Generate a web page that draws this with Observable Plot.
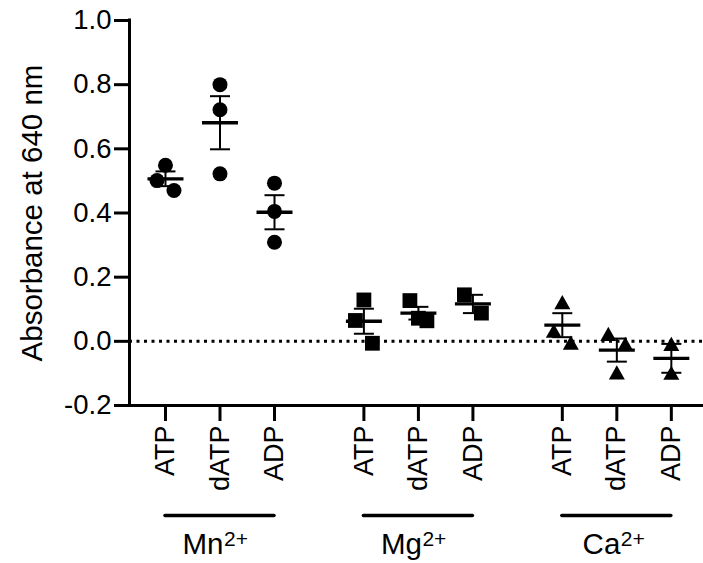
<!DOCTYPE html>
<html><head><meta charset="utf-8">
<script src="https://cdn.jsdelivr.net/npm/d3@7"></script>
<script src="https://cdn.jsdelivr.net/npm/@observablehq/plot@0.6"></script>
<style>body{margin:0;background:#fff} #chart svg{display:block}</style>
</head><body><div id="chart"></div>
<script>
// ---- data ----
const ionNames = ["Mn", "Mg", "Ca"];
const ionCharge = "2+";
const nucleotides = ["ATP", "dATP", "ADP"];
const mnValues = [[0.549, 0.501, 0.470], [0.800, 0.722, 0.522], [0.493, 0.405, 0.309]];
const mgValues = [[0.129, 0.065, -0.006], [0.072, 0.127, 0.064], [0.145, 0.088]];
const caValues = [[0.122, 0.033, -0.004], [0.023, -0.008, -0.097], [-0.008, -0.098]];
const yTicks = [-0.2, 0.0, 0.2, 0.4, 0.6, 0.8, 1.0];
const yDomain = [-0.2, 1.0];
const yLabel = "Absorbance at 640 nm";

// ---- layout ----
const W = 703, H = 563;
const marginLeft = 129, marginRight = 0, marginTop = 20, marginBottom = 158;
const groupStep = 3.64;
const xDomain = [-0.66, 9.87];
const pxPerUnit = (W - marginLeft - marginRight) / (xDomain[1] - xDomain[0]);
const spread = 8.5 / pxPerUnit;
const clusterGap = 0.075;
const font = "'Liberation Sans', Arial, Helvetica, sans-serif";

const seriesByIon = [mnValues, mgValues, caValues];
const points = [], stats = [], ticks = [];
seriesByIon.forEach((series, g) => {
  series.forEach((vals, k) => {
    const pos = g * groupStep + k;
    ticks.push({pos, label: nucleotides[k]});
    const order = d3.range(vals.length).sort((a, b) => vals[b] - vals[a]);
    const clusters = [];
    order.forEach((idx, j) => {
      if (j > 0 && Math.abs(vals[order[j - 1]] - vals[idx]) < clusterGap) clusters[clusters.length - 1].push(idx);
      else clusters.push([idx]);
    });
    const offset = new Array(vals.length).fill(0);
    clusters.forEach(c => {
      c.sort((a, b) => a - b);
      const seq = c.length % 2 ? [0, -1, 1, -2, 2] : [-1, 1, -2, 2];
      c.forEach((idx, j) => offset[idx] = seq[j]);
    });
    vals.forEach((v, i) => points.push({ion: g, pos: pos + offset[i] * spread, value: v}));
    const m = d3.mean(vals), sem = d3.deviation(vals) / Math.sqrt(vals.length);
    stats.push({pos, mean: m, lo: m - sem, hi: m + sem});
  });
});
const labelMap = new Map(ticks.map(t => [t.pos, t.label]));
const groups = ionNames.map((name, g) => ({name, start: g * groupStep, end: g * groupStep + 2, mid: g * groupStep + 1}));

const hbar = w => ({draw(ctx) { ctx.moveTo(-w, 0); ctx.lineTo(w, 0); }});
const squareSym = {draw(ctx) { ctx.rect(-7.4, -7.4, 14.8, 14.8); }};
const triSym = {draw(ctx) { ctx.moveTo(0, -7.1); ctx.lineTo(8, 7.1); ctx.lineTo(-8, 7.1); ctx.closePath(); }};
const ionSymbols = ["circle", squareSym, triSym];

const chart = Plot.plot({
  width: W, height: H,
  marginLeft, marginRight, marginTop, marginBottom,
  style: {fontFamily: font, background: "#fff", color: "#000"},
  x: {domain: xDomain, axis: null},
  y: {domain: yDomain, axis: null},
  marks: [
    Plot.ruleY([0], {strokeDasharray: "3,4.5", strokeWidth: 3}),
    Plot.axisY({ticks: yTicks, tickFormat: d => d.toFixed(1), tickSize: 15, tickPadding: 3, fontSize: 27.5, strokeWidth: 3, label: null}),
    Plot.axisX({ticks: ticks.map(t => t.pos), tickFormat: p => labelMap.get(p), tickRotate: -90, tickSize: 16, tickPadding: 4, fontSize: 27, strokeWidth: 3, label: null}),
    Plot.ruleX([xDomain[0]], {strokeWidth: 3, strokeLinecap: "square"}),
    Plot.ruleY([yDomain[0]], {strokeWidth: 3, strokeLinecap: "square"}),
    ...ionSymbols.map((sym, g) => Plot.dot(points.filter(p => p.ion === g), {x: "pos", y: "value", r: 7.5, fill: "black", stroke: "none", symbol: sym})),
    Plot.ruleX(stats, {x: "pos", y1: "lo", y2: "hi", strokeWidth: 2}),
    Plot.dot(stats, {x: "pos", y: "mean", r: 1, symbol: hbar(18), fill: "none", stroke: "black", strokeWidth: 3.3}),
    Plot.dot(stats, {x: "pos", y: "lo", r: 1, symbol: hbar(10), fill: "none", stroke: "black", strokeWidth: 2}),
    Plot.dot(stats, {x: "pos", y: "hi", r: 1, symbol: hbar(10), fill: "none", stroke: "black", strokeWidth: 2}),
    Plot.ruleY(groups, {x1: "start", x2: "end", y: () => yDomain[0], dy: 110, strokeWidth: 3.5, strokeLinecap: "round"}),
    Plot.text(groups, {x: "mid", y: () => yDomain[0], text: "name", textAnchor: "end", lineAnchor: "bottom", dx: 3.5, dy: 148, fontSize: 29.5}),
    Plot.text(groups, {x: "mid", y: () => yDomain[0], text: () => ionCharge, textAnchor: "start", lineAnchor: "bottom", dx: 4, dy: 140, fontSize: 21}),
    Plot.text([yLabel], {text: d => d, frameAnchor: "left", textAnchor: "middle", rotate: -90, dx: -97, fontSize: 29.5})
  ]
});
document.getElementById("chart").appendChild(chart);
</script>
</body></html>
